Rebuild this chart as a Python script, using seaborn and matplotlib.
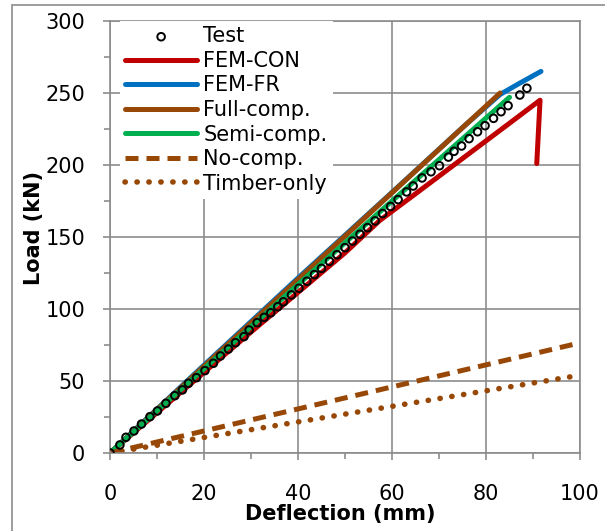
import matplotlib
matplotlib.use('Agg')  # no display
import matplotlib.pyplot as plt
import seaborn as sns
from matplotlib.patches import Rectangle
from matplotlib.ticker import MultipleLocator

# Test points (deflection mm, load kN)
test_x = [0, 2.1, 3.4, 5.1, 6.7, 8.5, 10.1, 11.9, 13.8, 15.4, 16.7, 18.4, 20.2, 22.0,
          23.5, 25.2, 26.7, 28.5, 29.6, 31.3, 32.8, 34.2, 35.7, 36.9, 38.6, 40.2, 41.9,
          43.5, 45.0, 46.7, 48.3, 50.0, 51.6, 53.2, 54.8, 56.4, 58.0, 59.7, 61.3, 63.1,
          64.5, 66.4, 68.3, 70.1, 72.0, 73.2, 74.8, 76.4, 78.2, 79.8, 81.6, 83.2, 84.7,
          87.2, 88.7]
test_y = [0, 5.6, 10.9, 15.3, 20.1, 25.2, 29.2, 34.5, 39.8, 43.8, 48.4, 52.3, 57.2, 62.3,
          67.4, 72.2, 76.6, 80.8, 85.4, 90.5, 94.2, 97.4, 101.6, 105.0, 109.8, 114.4, 119.3,
          123.9, 128.2, 133.1, 137.7, 142.6, 147.2, 151.9, 156.5, 161.2, 166.3, 171.2, 176.0,
          181.3, 185.4, 191.0, 195.3, 199.5, 205.5, 209.5, 213.2, 218.3, 223.1, 227.3, 232.4,
          237.0, 241.2, 248.6, 253.3]

con_x = [0, 10, 20, 30, 40, 50, 57.4, 65, 75, 85, 91.5, 90.8]
con_y = [0, 28, 56, 84, 111.5, 139, 161.5, 180, 204.5, 229, 245, 201]

fr_x = [0, 20, 40, 60, 75, 83, 87, 91.7]
fr_y = [0, 61, 121.5, 181, 226, 249, 256.5, 265]

full_x = [0, 83]
full_y = [0, 250]

semi_x = [0, 20, 40, 60, 85]
semi_y = [0, 58.5, 117, 175, 247]

nocomp_x = [0, 100]
nocomp_y = [0, 76.5]

timber_x = [0, 100]
timber_y = [0, 54]

RED = "#C00000"
BLUE = "#0070C0"
BROWN = "#984806"
GREEN = "#00B050"
GRID = "#8C8C8C"

fig = plt.figure(figsize=(6.05, 5.31), dpi=100)
ax = fig.add_axes([110 / 605, 1 - 453 / 531, 470 / 605, 432 / 531])

lw = 3.6
sns.lineplot(x=con_x, y=con_y, ax=ax, color=RED, lw=lw, sort=False,
             estimator=None, label="FEM-CON", solid_capstyle="round")
sns.lineplot(x=fr_x, y=fr_y, ax=ax, color=BLUE, lw=lw, sort=False,
             estimator=None, label="FEM-FR", solid_capstyle="round")
sns.lineplot(x=full_x, y=full_y, ax=ax, color=BROWN, lw=lw, sort=False,
             estimator=None, label="Full-comp.", solid_capstyle="round")
sns.lineplot(x=semi_x, y=semi_y, ax=ax, color=GREEN, lw=lw, sort=False,
             estimator=None, label="Semi-comp.", solid_capstyle="round")
sns.lineplot(x=nocomp_x, y=nocomp_y, ax=ax, color=BROWN, lw=lw, sort=False,
             estimator=None, label="No-comp.", dashes=False)
ax.lines[-1].set_linestyle((0, (2.6, 1.6)))
sns.lineplot(x=timber_x, y=timber_y, ax=ax, color=BROWN, lw=4.0, sort=False,
             estimator=None, label="Timber-only", dashes=False)
ax.lines[-1].set_linestyle((0, (0.05, 2.1)))
ax.lines[-1].set_dash_capstyle("round")
sns.scatterplot(x=test_x, y=test_y, ax=ax, s=30, facecolor="none",
                edgecolor="black", linewidth=1.4, label="Test", zorder=10)

ax.set_xlim(0, 100)
ax.set_ylim(0, 300)
ax.xaxis.set_major_locator(MultipleLocator(20))
ax.xaxis.set_minor_locator(MultipleLocator(10))
ax.yaxis.set_major_locator(MultipleLocator(50))
ax.yaxis.set_minor_locator(MultipleLocator(25))
ax.grid(True, which="major", color=GRID, lw=1.2)
ax.set_axisbelow(True)
for sp in ax.spines.values():
    sp.set_color(GRID)
    sp.set_linewidth(1.2)
ax.tick_params(which="major", direction="out", length=5, width=1.2, color=GRID,
               labelsize=15)
ax.tick_params(which="minor", direction="out", length=4, width=1.2, color=GRID)
ax.tick_params(axis="x", which="major", pad=17)
ax.tick_params(axis="y", which="major", pad=13)

ax.set_xlabel("Deflection (mm)", fontsize=15, fontweight="bold")
ax.set_ylabel("Load (kN)", fontsize=15, fontweight="bold")
ax.xaxis.set_label_coords(0.489, -0.118)
ax.yaxis.set_label_coords(-0.14, 0.52)

# legend: Test first, then the lines
handles, labels = ax.get_legend_handles_labels()
order = ["Test", "FEM-CON", "FEM-FR", "Full-comp.", "Semi-comp.", "No-comp.", "Timber-only"]
hmap = dict(zip(labels, handles))
leg = ax.legend([hmap[k] for k in order], order, loc="upper left",
                bbox_to_anchor=(0.021, 1.0), borderaxespad=0, borderpad=0.25,
                fontsize=15, handlelength=3.46, handletextpad=0.29,
                labelspacing=0.22, frameon=True, fancybox=False, framealpha=1,
                facecolor="white", edgecolor="none", scatterpoints=1)

# outer chart border (left and top visible)
fig.add_artist(Rectangle((12 / 605, -0.1), 1.0, 1.1 - 4.5 / 531,
                         transform=fig.transFigure, fill=False,
                         edgecolor=GRID, lw=1.2))

plt.savefig("out.png", dpi=100)
plt.close()
